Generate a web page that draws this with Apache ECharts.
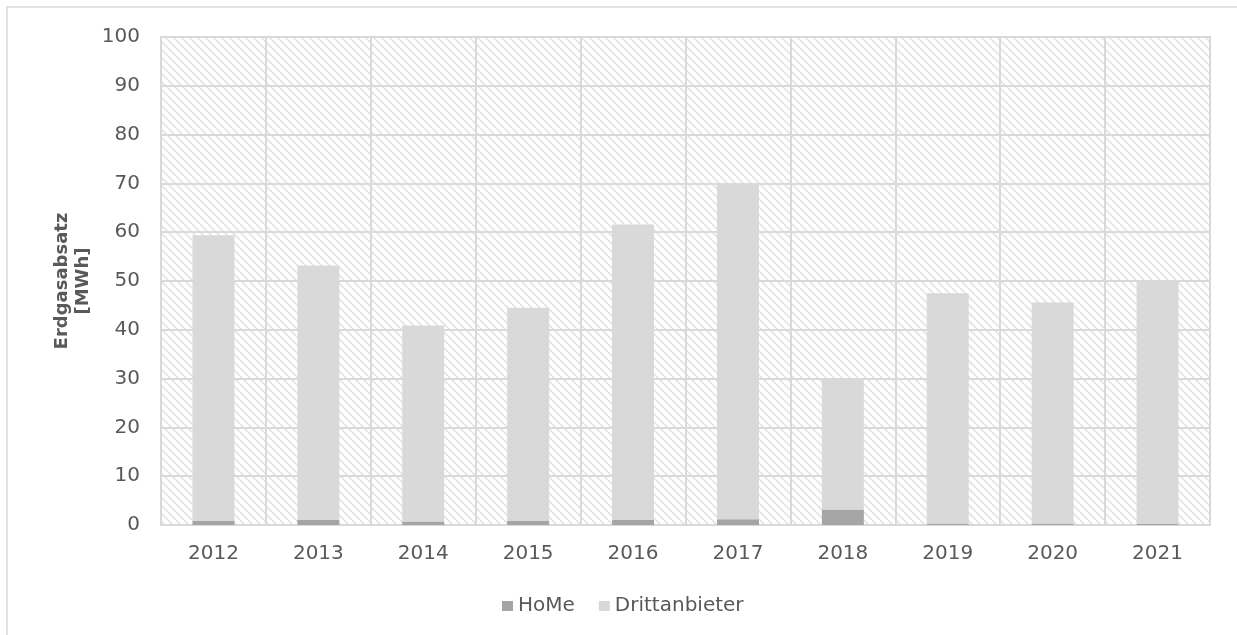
<!DOCTYPE html>
<html>
<head>
<meta charset="utf-8">
<script src="https://cdn.jsdelivr.net/npm/echarts@6/dist/echarts.min.js"></script>
<style>
html,body{margin:0;padding:0;background:#fff;}
#chart{width:1237px;height:635px;}
</style>
</head>
<body>
<div id="chart"></div>
<script>
const years = ['2012','2013','2014','2015','2016','2017','2018','2019','2020','2021'];
const home = [0.8, 1.0, 0.7, 0.8, 1.1, 1.2, 3.2, 0.3, 0.3, 0.2];
const totals = [59.4, 53.2, 40.9, 44.5, 61.6, 70.1, 30.0, 47.5, 45.6, 49.8];
const dritt = totals.map((t, i) => +(t - home[i]).toFixed(2));
const yTicks = [0, 10, 20, 30, 40, 50, 60, 70, 80, 90, 100];

function hatch() {
  const c = document.createElement('canvas');
  c.width = 8; c.height = 8;
  const g = c.getContext('2d');
  g.fillStyle = '#ffffff';
  g.fillRect(0, 0, 8, 8);
  g.strokeStyle = '#e3e3e3';
  g.lineWidth = 1.6;
  for (let k = -8; k <= 8; k += 8) {
    g.beginPath();
    g.moveTo(k, 0);
    g.lineTo(k + 8, 8);
    g.stroke();
  }
  return c;
}

const chart = echarts.init(document.getElementById('chart'));
const font = 'DejaVu Sans';
chart.setOption({
  animation: false,
  textStyle: {fontFamily: font},
  graphic: [{
    type: 'rect', shape: {x: 7, y: 7, width: 1240, height: 640},
    style: {fill: 'none', stroke: '#d9d9d9', lineWidth: 1.5}, silent: true
  }],
  grid: {
    left: 161, right: 27, top: 37, bottom: 110,
    show: true,
    backgroundColor: {image: hatch(), repeat: 'repeat'},
    borderColor: '#d9d9d9', borderWidth: 2
  },
  legend: {
    top: 591, left: 497,
    itemWidth: 11, itemHeight: 10, itemGap: 24,
    icon: 'rect',
    textStyle: {color: '#595959', fontSize: 20, fontFamily: font},
    data: ['HoMe', 'Drittanbieter']
  },
  xAxis: {
    type: 'category', data: years,
    axisLine: {lineStyle: {color: '#d9d9d9', width: 2}},
    axisTick: {show: false},
    axisLabel: {color: '#595959', fontSize: 20, margin: 19, fontFamily: font},
    splitLine: {show: true, lineStyle: {color: '#d9d9d9', width: 2}}
  },
  yAxis: {
    type: 'value', min: 0, max: 100, interval: 10,
    name: 'Erdgasabsatz\n[MWh]',
    nameLocation: 'middle', nameGap: 67, nameRotate: 90,
    nameMoveOverlap: false,
    nameTextStyle: {color: '#595959', fontSize: 18, fontWeight: 'bold', fontFamily: font, lineHeight: 21},
    axisLine: {show: false}, axisTick: {show: false},
    axisLabel: {color: '#595959', fontSize: 20, margin: 21, fontFamily: font},
    splitLine: {lineStyle: {color: '#d9d9d9', width: 2}}
  },
  series: [
    {name: 'HoMe', type: 'bar', stack: 's', data: home, barWidth: '40%',
     itemStyle: {color: '#a5a5a5'}},
    {name: 'Drittanbieter', type: 'bar', stack: 's', data: dritt, barWidth: '40%',
     itemStyle: {color: '#d9d9d9'}}
  ]
});
</script>
</body>
</html>
